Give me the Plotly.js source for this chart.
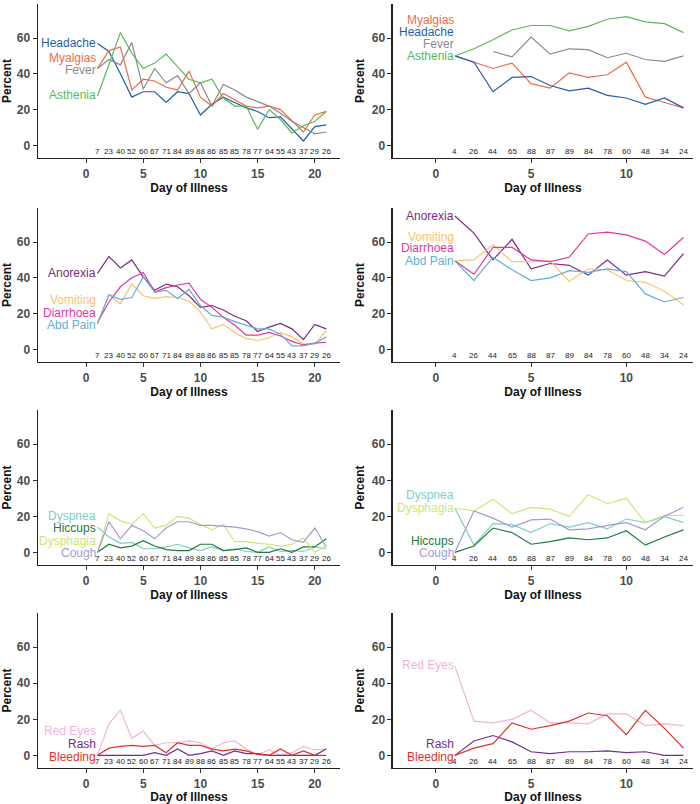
<!DOCTYPE html>
<html>
<head>
<meta charset="utf-8">
<script src="https://cdn.plot.ly/plotly-3.0.1.min.js"></script>
<style>
  body { margin: 0; background: #fff; }
  #plot { width: 700px; height: 804px; }
</style>
</head>
<body>
<div id="plot"></div>
<script>
// days of illness for the two cohorts (left column / right column)
let daysLeft = [1, 2, 3, 4, 5, 6, 7, 8, 9, 10, 11, 12, 13, 14, 15, 16, 17, 18, 19, 20, 21]
let daysRight = [1, 2, 3, 4, 5, 6, 7, 8, 9, 10, 11, 12, 13]

// number of patients on each day
let countsLeft = [7, 23, 40, 52, 60, 67, 71, 84, 89, 88, 86, 85, 85, 78, 77, 64, 55, 43, 37, 29, 26]
let countsRight = [4, 26, 44, 65, 88, 87, 89, 84, 78, 60, 48, 34, 24]

// ---- row 1: general symptoms
let headacheL = [57, 52.5, 40, 27, 30, 30, 24, 30, 29, 17, 23, 27, 24, 21, 19, 15.5, 16, 9, 2.5, 10.5, 11.5]
let myalgiasL = [43, 53, 55, 31, 37, 36, 32.5, 31, 41.5, 27, 22, 29, 25.5, 22, 21, 22, 20, 13.5, 7.5, 17, 19]
let feverL = [43, 48, 45, 57.5, 31.5, 43, 35, 39, 29, 35, 22, 34, 31, 27, 24.5, 22, 18, 13.5, 10, 6.5, 7.5]
let astheniaL = [27.5, 45, 63, 51.5, 43, 46, 51, 44, 37, 35, 37, 26.5, 22, 22, 9, 20, 14.5, 7, 11, 13.5, 19]

let headacheR = [50, 46.5, 30, 38, 38.5, 33.5, 30.5, 32, 28, 26.5, 23, 26.5, 21]
let myalgiasR = [50, 46.5, 43, 46, 34.5, 32, 40.5, 38, 39.5, 46.5, 27, 24, 21]
let feverR = [null, null, 52.5, 49.5, 60.5, 51, 54, 53.5, 49, 51.5, 48, 47, 50]
let astheniaR = [50, 54, 59, 64.5, 67, 67, 64, 66.5, 70.5, 72, 69, 68, 63]

// ---- row 2: gastrointestinal
let anorexiaL = [42.5, 52, 45.5, 50, 40.5, 33, 36.5, 35, 30, 23.5, 24.5, 22, 18.5, 16, 10, 12.5, 14.5, 11.5, 5.5, 14, 11.5]
let vomitingL = [14, 30.5, 25.5, 36.5, 30, 28.5, 29.5, 29, 27, 21, 11.5, 14, 9.5, 6, 5, 6.5, 9.5, 7, 3, 3, 10.5]
let diarrhoeaL = [15, 26.5, 35, 40, 43, 32, 34.5, 36, 37, 28, 23.5, 18, 13.5, 8, 8, 9.5, 7.5, 4.5, 2.5, 3.5, 4]
let abdPainL = [14.5, 30.5, 28, 29, 40.5, 32, 33, 28.5, 33.5, 24.5, 19, 18, 15.5, 13.5, 11.5, 11.5, 8.5, 2, 2, 3.5, 7]

let anorexiaR = [74.5, 65, 50, 61.5, 45, 48, 47, 41.5, 50, 41.5, 43.5, 41, 53.5]
let vomitingR = [49.5, 50, 58.5, 49, 49, 49.5, 38, 45, 44.5, 38.5, 37.5, 32.5, 25]
let diarrhoeaR = [49.5, 42, 57, 57, 50, 49, 51.5, 64.5, 65.5, 64, 60.5, 53, 62.5]
let abdPainR = [49.5, 38.5, 51.5, 44.5, 38.5, 40, 44, 43, 45, 43.5, 31, 26.5, 29]

// ---- row 3: respiratory / throat
let dyspneaL = [14, 8.5, 5, 5.5, 2, 2, 3, 4.5, 2.5, 1, 3, 1, 2, 0.5, 0, 3, 0.5, 1, 0.5, 3, 2]
let hiccupsL = [0, 4.5, 2.5, 3.5, 6.5, 3.5, 1.5, 1, 1, 4.5, 4.5, 1, 1.5, 2.5, 0, 0, 2, 0, 3, 3, 7.5]
let dysphagiaL = [0, 21.5, 17.5, 15.5, 21.5, 13.5, 15, 20, 19, 15.5, 12.5, 15.5, 6, 6, 5, 4.5, 3.5, 4.5, 8, 0, 3.5]
let coughL = [0, 17, 7.5, 15, 12, 7.5, 13.5, 17, 17, 15, 15, 14.5, 14, 13, 11.5, 9, 11, 7, 5.5, 13.5, 3]

let dyspneaR = [24.5, 4, 16, 15.5, 11, 16, 14, 16.5, 13, 18.5, 16.5, 20, 16.5]
let hiccupsR = [0, 3.5, 13.5, 11, 4.5, 6, 8, 7, 8, 12, 4, 8.5, 12.5]
let dysphagiaR = [24.5, 23, 29.5, 21.5, 25, 24, 20, 32, 27, 30, 16.5, 20.5, 20.5]
let coughR = [0, 23, 19, 14, 18, 18.5, 12.5, 13, 15, 16.5, 12.5, 20, 25]

// ---- row 4: eyes, skin, bleeding
let redEyesL = [0, 17.5, 25, 9.5, 13.5, 5.5, 7, 7, 8, 7, 3.5, 7, 8, 3.5, 0.5, 3, 0, 1.5, 5, 3, 3.5]
let rashL = [0, 0, 0, 0, 0, 1.5, 0, 3.5, 0, 1, 2.5, 0, 2.5, 1, 1, 0, 0, 0, 0, 0, 3.5]
let bleedingL = [0, 4, 5, 5.5, 5, 5.5, 1.5, 7, 5.5, 5.5, 3.5, 2.5, 3.5, 2.5, 0.5, 0, 3.5, 0, 2.5, 0, 0]

let redEyesR = [49.5, 19, 18, 20, 25, 18, 18, 17.5, 23, 23, 16.5, 17.5, 16.5]
let rashR = [0, 8, 11, 7.5, 2, 1, 2, 2, 2.5, 1.5, 2, 0, 0]
let bleedingR = [0, 4, 6.5, 18, 14.5, 16.5, 19, 23.5, 22, 11.5, 25, 15, 4]

// colours
let col = {
    Headache: '#1f5fa6', Myalgias: '#f26b45', Fever: '#8a8a8a', Asthenia: '#5cb85a',
    Anorexia: '#7b2a83', Vomiting: '#fdc26f', Diarrhoea: '#e0399a', 'Abd Pain': '#5fb0d8',
    Dyspnea: '#7fcfc4', Hiccups: '#1f7a3c', Dysphagia: '#cde67a', Cough: '#a29bd0',
    'Red Eyes': '#f2b3d8', Rash: '#6e2f8f', Bleeding: '#de3426'
}

// each panel: series + where the left-side labels go (y value of label)
let panels = [
    {days: daysLeft, counts: countsLeft, series: [
        ['Headache', headacheL, 57], ['Myalgias', myalgiasL, 49], ['Fever', feverL, 42], ['Asthenia', astheniaL, 28]]},
    {days: daysRight, counts: countsRight, series: [
        ['Myalgias', myalgiasR, 70], ['Headache', headacheR, 63.5], ['Fever', feverR, 56.5], ['Asthenia', astheniaR, 50]]},
    {days: daysLeft, counts: countsLeft, series: [
        ['Anorexia', anorexiaL, 42.5], ['Vomiting', vomitingL, 27.5], ['Diarrhoea', diarrhoeaL, 20.5], ['Abd Pain', abdPainL, 13.5]]},
    {days: daysRight, counts: countsRight, series: [
        ['Anorexia', anorexiaR, 74.5], ['Vomiting', vomitingR, 63], ['Diarrhoea', diarrhoeaR, 56.5], ['Abd Pain', abdPainR, 49.5]]},
    {days: daysLeft, counts: countsLeft, series: [
        ['Dyspnea', dyspneaL, 20], ['Hiccups', hiccupsL, 13.5], ['Dysphagia', dysphagiaL, 6.5], ['Cough', coughL, -0.5]]},
    {days: daysRight, counts: countsRight, series: [
        ['Dyspnea', dyspneaR, 32], ['Dysphagia', dysphagiaR, 24.5], ['Hiccups', hiccupsR, 6.5], ['Cough', coughR, -0.5]]},
    {days: daysLeft, counts: countsLeft, series: [
        ['Red Eyes', redEyesL, 13.5], ['Rash', rashL, 6.5], ['Bleeding', bleedingL, -1]]},
    {days: daysRight, counts: countsRight, series: [
        ['Red Eyes', redEyesR, 50], ['Rash', rashR, 6.5], ['Bleeding', bleedingR, -1]]}
]

// panel placement
let colDomains = [[0.0543, 0.4857], [0.5614, 0.99]]
let rowDomains = [[0.8035, 0.995], [0.5498, 0.7413], [0.2973, 0.49], [0.0448, 0.2376]]
let xRanges = [[-4.2, 22.2], [-2.25, 13.5]]

let data = []
let annotations = []
let layout = {
    width: 700,
    height: 804,
    margin: {l: 0, r: 0, t: 0, b: 0},
    paper_bgcolor: '#fff',
    plot_bgcolor: '#fff',
    showlegend: false,
    font: {family: 'Liberation Sans, Arial, sans-serif'}
}

panels.forEach(function(p, i) {
    let n = i + 1
    let c = i % 2
    let r = Math.floor(i / 2)
    let xa = 'x' + (n === 1 ? '' : n)
    let ya = 'y' + (n === 1 ? '' : n)

    p.series.forEach(function(s) {
        data.push({
            x: p.days,
            y: s[1],
            xaxis: xa,
            yaxis: ya,
            type: 'scatter',
            mode: 'lines',
            line: {color: col[s[0]], width: 1.2},
            hoverinfo: 'skip'
        })
        annotations.push({
            x: 1, y: s[2], xref: xa, yref: ya,
            text: s[0], showarrow: false,
            xanchor: 'right', yanchor: 'middle', borderpad: 0,
            font: {size: 12, color: col[s[0]]}
        })
    })

    // patient counts along the bottom
    p.counts.forEach(function(cnt, k) {
        annotations.push({
            x: p.days[k], y: -3.3, xref: xa, yref: ya,
            text: String(cnt), showarrow: false,
            xanchor: 'center', yanchor: 'middle', borderpad: 0,
            font: {size: 8, color: '#222'}
        })
    })

    let axisKey = 'xaxis' + (n === 1 ? '' : n)
    let yaxisKey = 'yaxis' + (n === 1 ? '' : n)
    layout[axisKey] = {
        domain: colDomains[c],
        anchor: ya,
        range: xRanges[c],
        tickvals: c === 0 ? [0, 5, 10, 15, 20] : [0, 5, 10],
        ticks: 'outside', ticklen: 4, tickcolor: '#333',
        showgrid: false, zeroline: false,
        showline: true, linecolor: '#222', linewidth: 1.5,
        tickfont: {size: 12, color: '#4d4d4d', family: 'Liberation Sans, Arial, sans-serif', weight: 'bold'},
        title: {text: '<b>Day of Illness</b>', font: {size: 12, color: '#111'}, standoff: 3}
    }
    layout[yaxisKey] = {
        domain: rowDomains[r],
        anchor: xa,
        range: [-7, 79],
        tickvals: [0, 20, 40, 60],
        ticks: 'outside', ticklen: 4, tickcolor: '#333',
        showgrid: false, zeroline: false,
        showline: true, linecolor: '#222', linewidth: 1.5,
        tickfont: {size: 12, color: '#4d4d4d', family: 'Liberation Sans, Arial, sans-serif', weight: 'bold'},
        title: {text: '<b>Percent</b>', font: {size: 12, color: '#111'}, standoff: 4}
    }
})

layout.annotations = annotations

Plotly.newPlot('plot', data, layout, {displayModeBar: false, staticPlot: true})
</script>
</body>
</html>
